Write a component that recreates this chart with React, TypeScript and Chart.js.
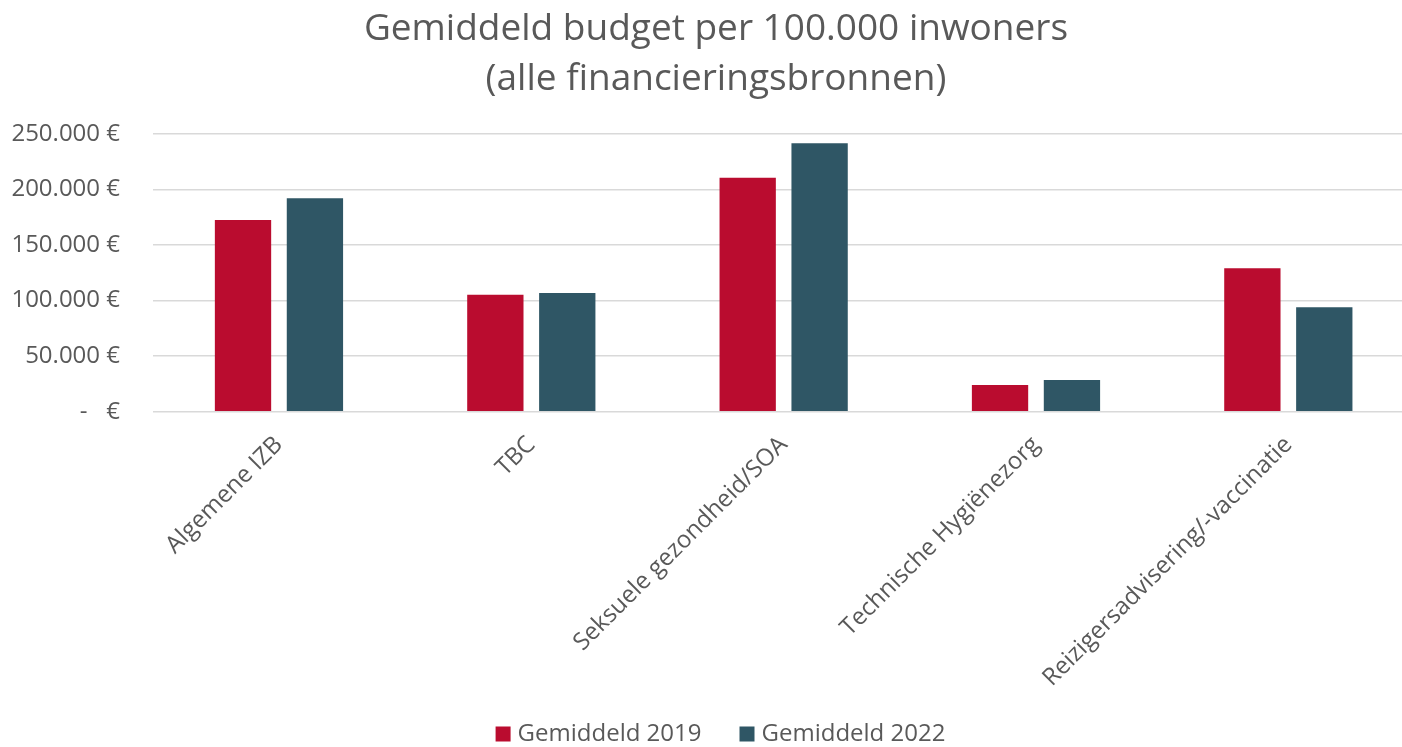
import React, { useEffect, useRef } from "react";
import { Chart, registerables } from "chart.js";

Chart.register(...registerables);

const categories = [
  "Algemene IZB",
  "TBC",
  "Seksuele gezondheid/SOA",
  "Technische Hygiënezorg",
  "Reizigersadvisering/-vaccinatie",
];
const values2019 = [172500, 105300, 210600, 24000, 129100];
const values2022 = [192100, 106900, 241600, 28500, 94000];
const seriesLabels = ["Gemiddeld 2019", "Gemiddeld 2022"];
const seriesColors = ["#BA0C2F", "#2F5665"];
const titleLines = ["Gemiddeld budget per 100.000 inwoners", "(alle financieringsbronnen)"];

const TEXT = "#595959";
const FONT = '"Open Sans", "Noto Sans", sans-serif';

function formatEuro(v: number): string {
  if (v === 0) return "-   €";
  const s = Math.round(v).toString().replace(/\B(?=(\d{3})+(?!\d))/g, ".");
  return s + " €";
}

const titleLegendPlugin = {
  id: "titleLegend",
  afterDraw(chart: any) {
    const ctx = chart.ctx as CanvasRenderingContext2D;
    ctx.save();
    // title
    ctx.font = `37px ${FONT}`;
    ctx.fillStyle = TEXT;
    ctx.textAlign = "center";
    ctx.textBaseline = "middle";
    titleLines.forEach((line, i) => ctx.fillText(line, 716, 29 + i * 50));

    // legend
    const ds = chart.data.datasets;
    ctx.font = `24px ${FONT}`;
    const box = 15;
    const gapText = 7;
    const gapItems = 38;
    const widths = ds.map((d: any) => ctx.measureText(d.label).width);
    let total = 0;
    widths.forEach((w: number, i: number) => {
      total += box + gapText + w + (i < widths.length - 1 ? gapItems : 0);
    });
    let x = 720.5 - total / 2;
    const cy = 734;
    ds.forEach((d: any, i: number) => {
      ctx.fillStyle = d.backgroundColor;
      ctx.fillRect(x, cy - box / 2, box, box);
      ctx.fillStyle = TEXT;
      ctx.textBaseline = "middle";
      ctx.textAlign = "left";
      ctx.fillText(d.label, x + box + gapText, cy);
      x += box + gapText + widths[i] + gapItems;
    });
    ctx.restore();
  },
};

export default function App() {
  const ref = useRef<HTMLCanvasElement | null>(null);

  useEffect(() => {
    if (!ref.current) return;
    Chart.defaults.font.family = FONT;
    const chart = new Chart(ref.current, {
      type: "bar",
      data: {
        labels: categories,
        datasets: [
          {
            label: seriesLabels[0],
            data: values2019,
            backgroundColor: seriesColors[0],
            categoryPercentage: 0.57,
            barPercentage: 0.783,
          },
          {
            label: seriesLabels[1],
            data: values2022,
            backgroundColor: seriesColors[1],
            categoryPercentage: 0.57,
            barPercentage: 0.783,
          },
        ],
      },
      options: {
        responsive: false,
        animation: false,
        layout: { padding: { left: 0, right: 21.5, top: 134, bottom: 0 } },
        plugins: {
          legend: { display: false },
          tooltip: { enabled: false },
          title: { display: false },
        },
        scales: {
          x: {
            grid: { display: false, drawTicks: false },
            border: { display: false },
            ticks: {
              color: TEXT,
              font: { size: 24, family: FONT },
              minRotation: 45,
              maxRotation: 45,
              autoSkip: false,
              padding: 19,
            },
            afterFit(scale: any) {
              scale.height = 335.3;
            },
          },
          y: {
            min: 0,
            max: 250000,
            grid: { color: "#d9d9d9", lineWidth: 1.5, drawTicks: false },
            border: { display: false },
            ticks: {
              stepSize: 50000,
              color: TEXT,
              font: { size: 24, family: FONT },
              padding: 32.8,
              callback: (v: any) => formatEuro(Number(v)),
            },
            afterFit(scale: any) {
              scale.width = 152.8;
            },
          },
        },
      },
      plugins: [titleLegendPlugin],
    });
    return () => chart.destroy();
  }, []);

  return (
    <div
      style={{
        position: "fixed",
        left: 0,
        top: 0,
        width: 1402,
        height: 747,
        overflow: "hidden",
        background: "#fff",
      }}
    >
      <canvas ref={ref} width={1436} height={747} style={{ width: 1436, height: 747, display: "block" }} />
    </div>
  );
}
